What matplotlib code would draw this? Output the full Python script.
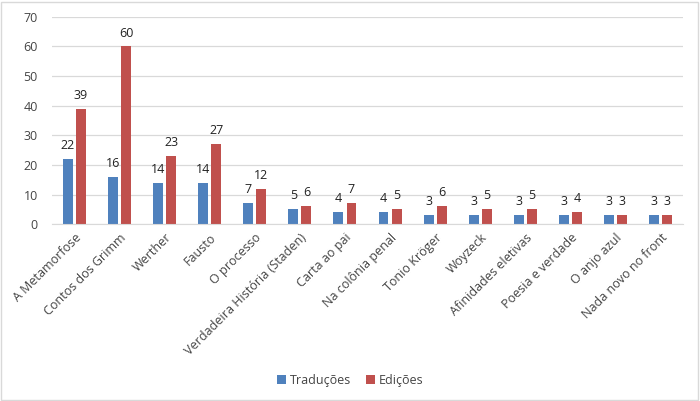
import numpy as np
import matplotlib.pyplot as plt
from matplotlib.patches import Rectangle

plt.rcParams['font.family'] = ['Open Sans', 'DejaVu Sans']

titulos = ["A Metamorfose", "Contos dos Grimm", "Werther", "Fausto", "O processo",
           "Verdadeira História (Staden)", "Carta ao pai", "Na colônia penal",
           "Tonio Kröger", "Woyzeck", "Afinidades eletivas", "Poesia e verdade",
           "O anjo azul", "Nada novo no front"]
traducoes = [22, 16, 14, 14, 7, 5, 4, 4, 3, 3, 3, 3, 3, 3]
edicoes = [39, 60, 23, 27, 12, 6, 7, 5, 6, 5, 5, 4, 3, 3]

azul = '#4F81BD'
vermelho = '#C0504D'

fig = plt.figure(figsize=(7, 4.01), dpi=100)
ax = fig.add_axes([0.074, 0.441, 0.902, 0.517])

x = np.arange(len(titulos))
w = 0.22
gap = 0.035
b1 = ax.bar(x - w/2 - gap, traducoes, w, color=azul, label='Traduções')
b2 = ax.bar(x + w/2 + gap, edicoes, w, color=vermelho, label='Edições')

for bars in (b1, b2):
    for b in bars:
        ax.annotate(str(int(b.get_height())), (b.get_x() + b.get_width()/2, b.get_height()),
                    xytext=(0, 5), textcoords='offset points', ha='center', va='bottom',
                    fontsize=9, color='#222222')

ax.set_xlim(-0.5, len(titulos) - 0.5)
ax.set_ylim(0, 70)
ax.set_yticks(range(0, 71, 10))
ax.yaxis.grid(True, color='#D9D9D9', linewidth=0.9)
ax.set_axisbelow(True)
for s in ['top', 'right', 'left']:
    ax.spines[s].set_visible(False)
ax.spines['bottom'].set_color('#D9D9D9')
ax.tick_params(axis='both', length=0, labelsize=9, colors='#444444')
ax.tick_params(axis='y', pad=10)
ax.tick_params(axis='x', pad=5)
ax.set_xticks(x)
ax.set_xticklabels(titulos, rotation=45, ha='right', rotation_mode='anchor')

fig.legend(handles=[b1, b2], loc='center', bbox_to_anchor=(0.5, 0.052), ncol=2,
           frameon=False, fontsize=9, handlelength=0.7, handleheight=0.7,
           handletextpad=0.3, columnspacing=1.2, labelcolor='#444444')

fig.patches.append(Rectangle((0.002, 0.003), 0.995, 0.993, transform=fig.transFigure,
                             fill=False, edgecolor='#D9D9D9', linewidth=1))

fig.savefig('out.png', dpi=100)
